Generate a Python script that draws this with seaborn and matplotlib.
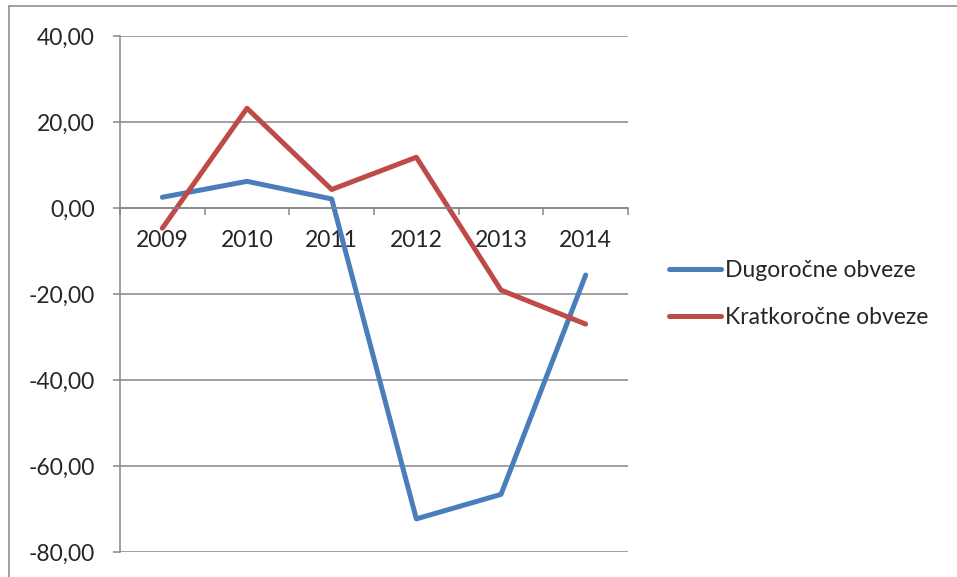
import matplotlib
matplotlib.use('Agg')
import matplotlib.pyplot as plt
from matplotlib.ticker import FuncFormatter, FixedLocator
from matplotlib.lines import Line2D
import seaborn as sns
import pandas as pd

# values
years = ['2009', '2010', '2011', '2012', '2013', '2014']
dugorocne = [2.5, 6.2, 2.1, -72.3, -66.6, -15.6]
kratkorocne = [-4.7, 23.2, 4.3, 11.8, -19.1, -27.0]
series_names = ['Dugoročne obveze', 'Kratkoročne obveze']

df = pd.DataFrame({
    'pos': list(range(len(years))) * 2,
    'value': dugorocne + kratkorocne,
    'serie': [series_names[0]] * len(years) + [series_names[1]] * len(years),
})

sns.set_style('white')
plt.rcParams['font.family'] = ['Lato', 'DejaVu Sans']

grey = '#868686'
colors = ['#4A7EBB', '#BE4B48']
fs = 16.5
fig = plt.figure(figsize=(9.57, 5.77), dpi=100)
W, H = 957, 577
ax = fig.add_axes([120 / W, 1 - 552 / H, (628 - 120) / W, (552 - 36) / H])

sns.lineplot(data=df, x='pos', y='value', hue='serie', ax=ax,
             palette=colors, linewidth=3.6, legend=False)

ax.set_xlim(-0.5, len(years) - 0.5)
ax.set_ylim(-80, 40)
ax.set_yticks(range(-80, 41, 20))
ax.yaxis.set_major_formatter(FuncFormatter(lambda v, p: f'{v:.2f}'.replace('.', ',')))
ax.grid(axis='y', color=grey, linewidth=1.1)
ax.set_axisbelow(True)

ax.set_xticks(range(len(years)))
ax.set_xticklabels(years)
ax.xaxis.set_minor_locator(FixedLocator([i - 0.5 for i in range(len(years) + 1)]))
ax.tick_params(axis='x', which='major', length=0, pad=16, labelsize=fs)
ax.tick_params(axis='x', which='minor', length=5, width=1.1, color=grey, direction='out')
ax.tick_params(axis='y', length=5, width=1.1, color=grey, direction='out', pad=13, labelsize=fs)
ax.tick_params(axis='both', which='both', bottom=True, left=True)

for s in ['top', 'right']:
    ax.spines[s].set_visible(False)
ax.spines['left'].set_color(grey)
ax.spines['left'].set_linewidth(1.1)
ax.spines['bottom'].set_position(('data', 0))
ax.spines['bottom'].set_color(grey)
ax.spines['bottom'].set_linewidth(1.1)
ax.set_xlabel('')
ax.set_ylabel('')

handles = [Line2D([0], [0], color=c, linewidth=3.6) for c in colors]
fig.legend(handles, series_names, loc='center left',
           bbox_to_anchor=(648 / W, 1 - 294 / H), frameon=False,
           fontsize=fs, handlelength=2.3, handletextpad=0.15, labelspacing=1.1)

# outer chart-area border (only left and top visible in the crop)
fig.add_artist(Line2D([9 / W, 9 / W], [0, 1 - 6 / H], transform=fig.transFigure, color=grey, linewidth=1.1))
fig.add_artist(Line2D([9 / W, 1], [1 - 6 / H, 1 - 6 / H], transform=fig.transFigure, color=grey, linewidth=1.1))

fig.savefig('out.png', dpi=100)
